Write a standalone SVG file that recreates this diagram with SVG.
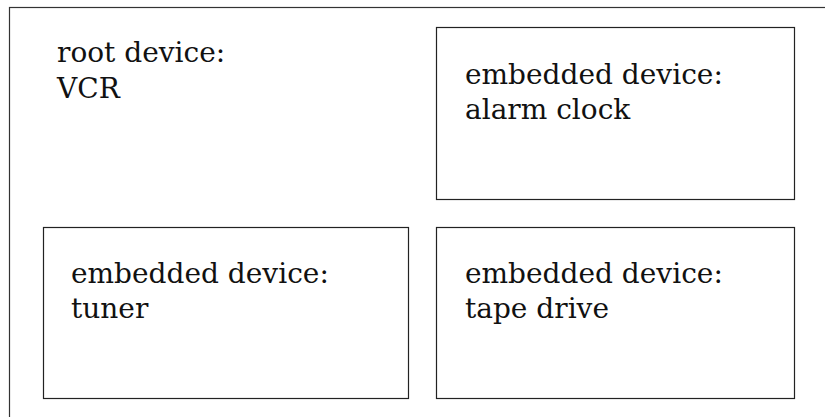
<svg xmlns="http://www.w3.org/2000/svg" width="825" height="417" viewBox="0 0 825 417">
<style>
.box{fill:#fff;stroke:#222;stroke-width:1.2}
.outer{fill:#fff;stroke:#333;stroke-width:1.2}
text{font-family:"DejaVu Serif","Liberation Serif",serif;font-size:28px;fill:#111}
</style>
<rect width="825" height="417" fill="#fff"/>
<g id="root">
<rect class="outer" x="9.5" y="7.5" width="900" height="500"/>
<text x="57" y="62">root device:</text>
<text x="57" y="98">VCR</text>
</g>
<g id="alarm">
<rect class="box" x="436.5" y="27.5" width="358" height="172"/>
<text x="465" y="84">embedded device:</text>
<text x="465" y="119">alarm clock</text>
</g>
<g id="tuner">
<rect class="box" x="43.5" y="227.5" width="365" height="171"/>
<text x="71" y="283">embedded device:</text>
<text x="71" y="318">tuner</text>
</g>
<g id="tape">
<rect class="box" x="436.5" y="227.5" width="358" height="171"/>
<text x="465" y="283">embedded device:</text>
<text x="465" y="318">tape drive</text>
</g>
<g id="connectors"></g>
</svg>
